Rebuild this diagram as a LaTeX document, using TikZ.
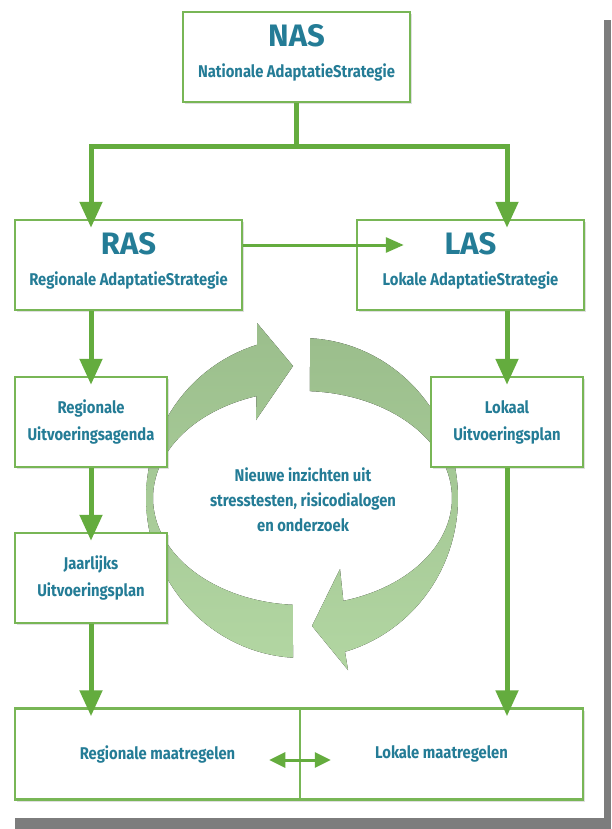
\documentclass[tikz,border=0pt]{standalone}
\usepackage{fontspec}
\setmainfont{Fira Sans}
\newfontfamily\narrowfont{Fira Sans}[FakeStretch=0.87]
\usetikzlibrary{arrows.meta,shadows}
\definecolor{boxgreen}{RGB}{120,182,86}
\definecolor{linegreen}{RGB}{100,172,62}
\definecolor{txtblue}{RGB}{36,124,150}
\definecolor{cycdark}{RGB}{155,190,140}
\definecolor{cyclight}{RGB}{178,214,162}
\definecolor{framegray}{RGB}{125,125,125}
\newcommand\boxtitle[1]{{\rmfamily\fontsize{31}{31}\selectfont #1}}
\newcommand\lowpad{\rule[-13pt]{0pt}{13pt}}

\begin{document}
\begin{tikzpicture}[x=1pt,y=-1pt,
  box/.style={draw=boxgreen,line width=2.5pt,fill=white,inner sep=0pt,align=center,text=txtblue,
    font=\narrowfont\bfseries\fontsize{17}{27}\selectfont,
    drop shadow={opacity=0.25,shadow xshift=1.5pt,shadow yshift=-2pt}},
  flow/.style={draw=linegreen,line width=5pt,-{Triangle[length=26pt,width=22pt]},shorten >=-9pt},
  thinflow/.style={draw=linegreen,line width=3pt,-{Triangle[length=18pt,width=15pt]}},
  cyc/.style={top color=cycdark,bottom color=cyclight,draw=none}]
\fill[white] (0,0) rectangle (611,829);
\useasboundingbox (0,0) rectangle (611,829);
\fill[framegray] (604,20) rectangle (611,829);
\fill[framegray] (15,818) rectangle (611,829);

% kringloop
\fill[cyc] plot[domain=273:434,samples=60] ({302+156*cos(\x)},{498+160*sin(\x)})
  -- (348,670) -- (312,626) -- (340,569)
  -- plot[domain=434:273,samples=60] ({302+150*cos(\x)},{498+107*sin(\x)}) -- cycle;
\fill[cyc] plot[domain=93.3:253.3,samples=60] ({302+156*cos(\x)},{498+160*sin(\x)})
  -- (257,323) -- (293,366) -- (256,420)
  -- plot[domain=252.2:93.5,samples=60] ({302+149*cos(\x)},{498+107*sin(\x)}) -- cycle;
\node[text=txtblue,align=center,font=\narrowfont\bfseries\fontsize{17}{25}\selectfont] (inzicht) at (303,500)
  {Nieuwe inzichten uit\\stresstesten, risicodialogen\\en onderzoek};

\node[box,minimum width=227pt,minimum height=90pt] (NAS) at (296.5,57) {\boxtitle{NAS}\\[4pt]Nationale AdaptatieStrategie\lowpad};
\node[box,minimum width=227pt,minimum height=90pt] (RAS) at (128.5,265) {\boxtitle{RAS}\\[4pt]Regionale AdaptatieStrategie\lowpad};
\node[box,minimum width=227pt,minimum height=90pt] (LAS) at (470.5,265) {\boxtitle{LAS}\\[4pt]Lokale AdaptatieStrategie\lowpad};
\node[box,minimum width=152pt,minimum height=90pt] (RUA) at (91,422) {Regionale\\Uitvoeringsagenda};
\node[box,minimum width=152pt,minimum height=90pt] (LUP) at (507,422) {Lokaal\\Uitvoeringsplan};
\node[box,minimum width=152pt,minimum height=90pt] (JUP) at (91,578) {Jaarlijks\\Uitvoeringsplan};
\node[box,minimum width=285pt,minimum height=91pt] (RegMaat) at (157.5,754) {Regionale maatregelen};
\node[box,minimum width=283pt,minimum height=91pt] (LokMaat) at (441.5,754) {Lokale maatregelen};

\draw[flow] (NAS.south) -- ++(0,43) -| (RUA |- RAS.north);
\draw[flow] (NAS.south) -- ++(0,43) -| (LUP |- LAS.north);
\draw[thinflow] ([yshift=20pt]RAS.east) -- ([xshift=48pt,yshift=20pt]LAS.west);
\draw[flow] (RUA |- RAS.south) -- (RUA.north);
\draw[flow] (RUA.south) -- (JUP.north);
\draw[flow] (JUP.south) -- (JUP |- RegMaat.north);
\draw[flow] (LUP |- LAS.south) -- (LUP.north);
\draw[flow] (LUP.south) -- (LUP |- LokMaat.north);
\draw[draw=linegreen,line width=3pt,{Triangle[length=16pt,width=15pt]}-{Triangle[length=16pt,width=15pt]}]
  ([xshift=-32pt,yshift=-6pt]RegMaat.east) -- ([xshift=32pt,yshift=-6pt]LokMaat.west);
\end{tikzpicture}
\end{document}
